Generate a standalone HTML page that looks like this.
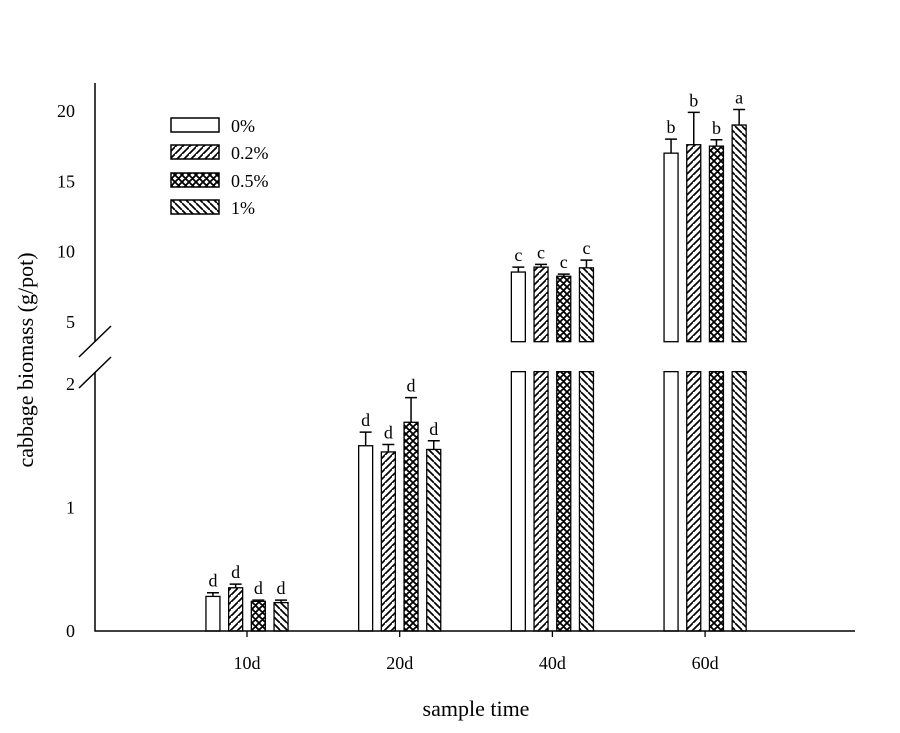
<!DOCTYPE html>
<html><head><meta charset="utf-8"><style>
body{margin:0;background:#fff}
svg text{font-family:"Liberation Serif",serif;fill:#000}
</style></head><body>
<svg id="chart" width="900" height="728" xmlns="http://www.w3.org/2000/svg">
<defs>
<pattern id="p02" patternUnits="userSpaceOnUse" width="7" height="7"><rect width="7" height="7" fill="#fff"/><path d="M-1,8 L8,-1 M-4.5,3.5 L3.5,-4.5 M3.5,10.5 L10.5,3.5" stroke="#000" stroke-width="1.7"/></pattern>
<pattern id="p05" patternUnits="userSpaceOnUse" width="7" height="7"><rect width="7" height="7" fill="#fff"/><path d="M-1,8 L8,-1 M-1,-1 L8,8 M-4.5,3.5 L3.5,-4.5 M3.5,10.5 L10.5,3.5 M-4.5,3.5 L3.5,10.5 M3.5,-4.5 L10.5,3.5" stroke="#000" stroke-width="1.8"/></pattern>
<pattern id="p1" patternUnits="userSpaceOnUse" width="7" height="7"><rect width="7" height="7" fill="#fff"/><path d="M-1,-1 L8,8 M-4.5,3.5 L3.5,10.5 M3.5,-4.5 L10.5,3.5" stroke="#000" stroke-width="1.7"/></pattern>
</defs>
<g id="g"></g>
</svg>
<script>
const categories=["10d","20d","40d","60d"];
const seriesNames=["0%","0.2%","0.5%","1%"];
const s0=[0.28,1.50,8.55,17.0];
const s02=[0.35,1.45,8.9,17.6];
const s05=[0.24,1.69,8.25,17.5];
const s1=[0.23,1.47,8.85,19.0];
const e0=[0.03,0.11,0.35,1.0];
const e02=[0.03,0.06,0.2,2.3];
const e05=[0.01,0.2,0.15,0.45];
const e1=[0.02,0.07,0.55,1.1];
const letters0=["d","d","c","b"];
const letters02=["d","d","c","b"];
const letters05=["d","d","c","b"];
const letters1=["d","d","c","a"];
const lowTicks=[0,1,2];
const highTicks=[5,10,15,20];

const NS="http://www.w3.org/2000/svg";
const g=document.getElementById("g");
function el(t,a){const e=document.createElementNS(NS,t);for(const k in a)e.setAttribute(k,a[k]);g.appendChild(e);return e;}
function yLow(v){return 631-v*123.5;}
function yHigh(v){return 322-(v-5)*14.07;}
const LOWMAX=2.1, HIGHMIN=3.6;
function xGroup(i){return 247+i*152.7;}
const fills=["#fff","url(#p02)","url(#p05)","url(#p1)"];
const vals=[s0,s02,s05,s1], errs=[e0,e02,e05,e1], lets=[letters0,letters02,letters05,letters1];
const bw=14, step=22.7;
function mapY(v){return v<=LOWMAX?yLow(v):yHigh(v);}

for(let s=0;s<4;s++){
  for(let i=0;i<categories.length;i++){
    const v=vals[s][i], x=xGroup(i)+(s-1.5)*step-bw/2;
    if(v<=LOWMAX){
      const r=el("rect",{x:x,y:yLow(v),width:bw,height:631-yLow(v),fill:fills[s],stroke:"#000","stroke-width":1.3});
      
      
    }else{
      const r1=el("rect",{x:x,y:yLow(LOWMAX),width:bw,height:631-yLow(LOWMAX),fill:fills[s],stroke:"#000","stroke-width":1.3});
      
      
      const r2=el("rect",{x:x,y:yHigh(v),width:bw,height:yHigh(HIGHMIN)-yHigh(v),fill:fills[s],stroke:"#000","stroke-width":1.3});
      
      
    }
    const top=mapY(v+errs[s][i]), cx=x+bw/2;
    const eb=el("path",{d:`M${cx},${mapY(v)} V${top} M${cx-6},${top} H${cx+6}`,stroke:"#000","stroke-width":1.5,fill:"none"});
    
    
    const t=el("text",{x:cx,y:top-6,"text-anchor":"middle","font-size":18});
    t.textContent=lets[s][i];
    
    
  }
}
const ax=el("path",{d:"M95,83 V341 M95,372 V631 H855",stroke:"#000","stroke-width":1.5,fill:"none"});


const br=el("path",{d:"M79,357 L111,326 M79,388 L111,357",stroke:"#000","stroke-width":1.5});


lowTicks.forEach(v=>{const t=el("text",{x:75,y:yLow(v)+6,"text-anchor":"end","font-size":18});t.textContent=v;

});
highTicks.forEach(v=>{const t=el("text",{x:75,y:yHigh(v)+6,"text-anchor":"end","font-size":18});t.textContent=v;

});
categories.forEach((c,i)=>{
  const tk=el("line",{x1:xGroup(i),x2:xGroup(i),y1:631,y2:637,stroke:"#000","stroke-width":1.3});
  
  
  const t=el("text",{x:xGroup(i),y:669,"text-anchor":"middle","font-size":18});t.textContent=c;
  
  
});
const xt=el("text",{x:476,y:716,"text-anchor":"middle","font-size":22});xt.textContent="sample time";


const yt=el("text",{x:0,y:0,"text-anchor":"middle","font-size":22,transform:"translate(33,360) rotate(-90)"});yt.textContent="cabbage biomass (g/pot)";


const ly=[118,145,173,200];
seriesNames.forEach((n,s)=>{
  const r=el("rect",{x:171,y:ly[s],width:48,height:14,fill:fills[s],stroke:"#000","stroke-width":1.5});
  
  
  const t=el("text",{x:231,y:ly[s]+14,"font-size":18});t.textContent=n;
  
  
});
</script>
</body></html>
